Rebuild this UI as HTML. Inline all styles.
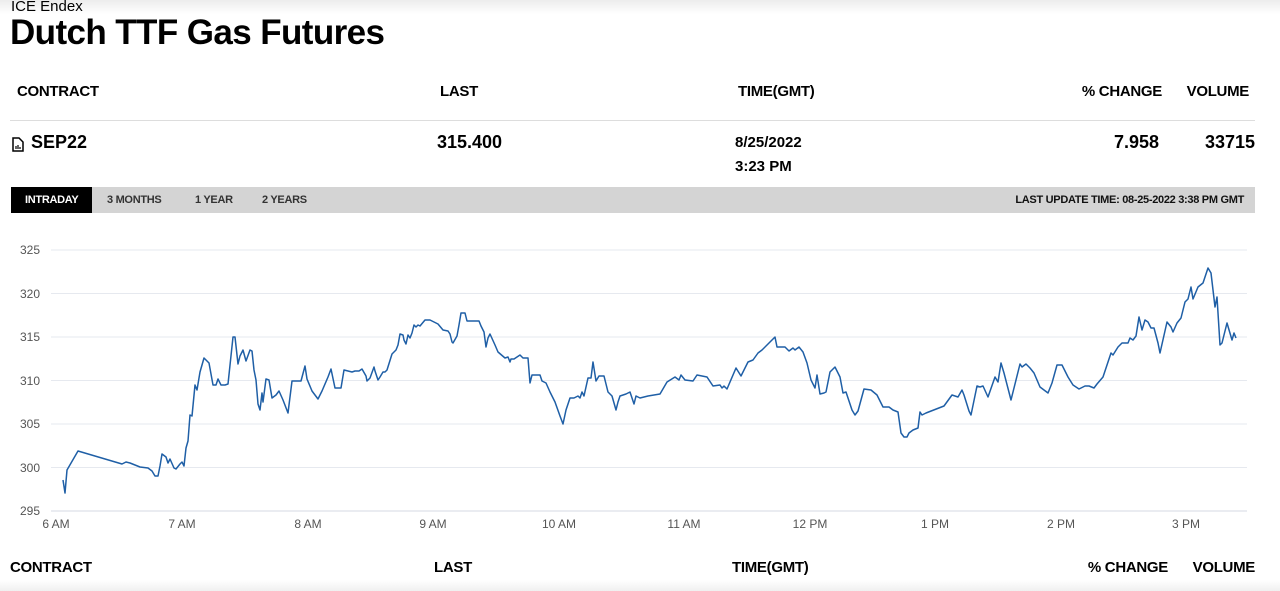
<!DOCTYPE html>
<html><head><style>
body{margin:0;width:1280px;height:591px;background:#fff;position:relative;overflow:hidden;font-family:"Liberation Sans",Arial,sans-serif;color:#000}
.a{position:absolute;white-space:nowrap}
.h{font-weight:bold;font-size:15px;letter-spacing:-0.3px}
.v{font-weight:bold;font-size:18px}
.t{font-weight:bold;font-size:11px;letter-spacing:-0.3px}
</style></head><body>
<div class="a" style="left:0;top:0;width:1280px;height:14px;background:linear-gradient(#ececec,#fff)"></div>
<div class="a" style="left:11px;top:-2px;font-size:15px">ICE Endex</div>
<div class="a" style="left:10px;top:13px;font-size:35px;font-weight:bold;letter-spacing:-0.6px">Dutch TTF Gas Futures</div>
<div class="a h" style="left:17px;top:83px">CONTRACT</div>
<div class="a h" style="left:440px;top:83px">LAST</div>
<div class="a h" style="left:738px;top:83px">TIME(GMT)</div>
<div class="a h" style="right:118px;top:83px">% CHANGE</div>
<div class="a h" style="right:31px;top:83px">VOLUME</div>
<div class="a" style="left:10px;top:120px;width:1245px;height:1px;background:#ddd"></div>
<svg class="a" style="left:12px;top:137px" width="12" height="15" viewBox="0 0 12 15"><path d="M1 1h6l4 4v9H1z" fill="none" stroke="#000" stroke-width="1.5"/><path d="M4 12V9M6 12V8M8 12v-2" stroke="#000" stroke-width="1.2"/></svg>
<div class="a v" style="left:31px;top:132px">SEP22</div>
<div class="a v" style="left:437px;top:132px">315.400</div>
<div class="a" style="left:735px;top:131px;font-weight:bold;font-size:15px;line-height:24px">8/25/2022<br>3:23 PM</div>
<div class="a v" style="right:121px;top:132px">7.958</div>
<div class="a v" style="right:25px;top:132px">33715</div>
<div class="a" style="left:11px;top:187px;width:1244px;height:26px;background:#d4d4d4"></div>
<div class="a" style="left:11px;top:187px;width:81px;height:26px;background:#000"></div>
<div class="a t" style="left:25px;top:194px;color:#fff">INTRADAY</div>
<div class="a t" style="left:107px;top:194px;color:#333">3 MONTHS</div>
<div class="a t" style="left:195px;top:194px;color:#333">1 YEAR</div>
<div class="a t" style="left:262px;top:194px;color:#333">2 YEARS</div>
<div class="a t" style="right:36px;top:194px;color:#111">LAST UPDATE TIME: 08-25-2022 3:38 PM GMT</div>
<svg class="a" style="left:0;top:0" width="1280" height="591">
<g stroke="#e6e9ef" stroke-width="1">
<line x1="51" x2="1247" y1="250" y2="250"/><line x1="51" x2="1247" y1="293.5" y2="293.5"/><line x1="51" x2="1247" y1="337" y2="337"/><line x1="51" x2="1247" y1="380.5" y2="380.5"/><line x1="51" x2="1247" y1="424" y2="424"/><line x1="51" x2="1247" y1="467.5" y2="467.5"/><line x1="51" x2="1247" y1="511" y2="511" stroke="#d5dae3"/>
</g>
<g font-size="12" fill="#555" text-anchor="end" font-family="Liberation Sans, sans-serif">
<text x="40" y="254">325</text><text x="40" y="298">320</text><text x="40" y="341">315</text><text x="40" y="385">310</text><text x="40" y="428">305</text><text x="40" y="472">300</text><text x="40" y="515">295</text>
</g>
<g font-size="12" fill="#555" text-anchor="middle" font-family="Liberation Sans, sans-serif">
<text x="56" y="528">6 AM</text><text x="182" y="528">7 AM</text><text x="308" y="528">8 AM</text><text x="433" y="528">9 AM</text><text x="559" y="528">10 AM</text><text x="684" y="528">11 AM</text><text x="810" y="528">12 PM</text><text x="935" y="528">1 PM</text><text x="1061" y="528">2 PM</text><text x="1186" y="528">3 PM</text>
</g>
<polyline fill="none" stroke="#1f5fa6" stroke-width="1.5" stroke-linejoin="round" points="63,480 65,493 67,470 78,451 122,464 126,462 130,463 140,467 148,468 152,471 155,476 158,476 160,466 162,454 166,457 168,463 170,459 174,468 176,469 180,464 182,462 184,466 186,448 188,441 190,415 192,416 195,385 197,390 200,372 204,358 209,363 213,385 216,385 218,379 221,385 225,385 228,384 233,337 235,337 238,364 240,356 243,350 246,361 250,350 252,351 254,370 256,380 258,404 260,410 262,393 263,402 266,379 269,380 272,398 276,395 279,391 283,400 288,413 292,381 301,381 305,366 307,379 312,391 318,399 322,391 328,377 331,369 335,388 339,388 341,388 344,370 352,372 355,371 359,371 362,369 366,376 367,381 370,378 374,367 375,371 378,380 380,377 383,372 385,372 387,370 392,354 396,350 398,345 400,334 403,335 404,340 406,344 408,335 410,338 412,333 414,325 416,327 418,325 420,326 425,320 430,320 434,322 438,324 443,330 448,331 450,334 452,342 453,343 457,336 459,325 461,313 465,313 467,321 472,321 479,321 481,326 484,332 486,347 488,338 490,334 495,345 498,352 505,358 508,357 510,362 511,359 514,359 520,355 523,358 528,358 530,383 532,375 540,375 542,381 546,383 550,392 555,402 560,416 563,424 566,410 570,398 574,398 578,396 580,398 582,392 584,396 588,378 591,378 593,362 596,381 599,376 604,376 606,384 608,392 612,396 616,410 618,402 620,396 626,394 630,392 632,398 634,404 636,396 640,398 648,396 660,394 667,382 675,377 679,380 681,375 685,380 693,381 697,375 707,377 713,386 720,385 722,388 724,386 727,389 736,368 741,376 748,362 753,360 758,353 762,350 769,343 775,337 777,347 785,347 789,351 793,348 795,350 799,347 803,352 807,363 811,380 815,388 817,375 820,394 824,393 826,392 830,372 835,367 840,377 843,393 846,392 852,410 855,415 858,411 864,389 871,390 877,395 883,407 889,407 893,410 898,412 901,433 904,437 907,437 909,433 913,430 918,428 920,412 922,415 926,413 944,406 952,395 958,397 962,390 964,395 969,411 971,415 977,386 980,387 983,386 988,397 995,377 998,382 1001,363 1004,373 1011,400 1020,364 1022,367 1026,364 1030,368 1034,373 1040,387 1048,393 1052,383 1057,365 1062,365 1068,377 1073,385 1079,389 1085,386 1089,386 1094,388 1097,384 1103,377 1107,365 1111,353 1113,355 1118,347 1122,343 1128,343 1130,338 1133,340 1136,336 1139,317 1142,330 1145,320 1148,322 1151,328 1154,328 1158,343 1160,353 1167,322 1171,327 1173,332 1177,323 1181,318 1185,302 1188,299 1191,287 1193,299 1198,287 1203,283 1208,268 1211,273 1215,307 1217,297 1220,345 1222,343 1227,323 1232,340 1234,333 1236,338"/>
</svg>
<div class="a h" style="left:10px;top:559px">CONTRACT</div>
<div class="a h" style="left:434px;top:559px">LAST</div>
<div class="a h" style="left:732px;top:559px">TIME(GMT)</div>
<div class="a h" style="right:112px;top:559px">% CHANGE</div>
<div class="a h" style="right:25px;top:559px">VOLUME</div>
<div class="a" style="left:0;top:580px;width:1280px;height:11px;background:linear-gradient(#fff,#f0f0f0)"></div>
</body></html>
